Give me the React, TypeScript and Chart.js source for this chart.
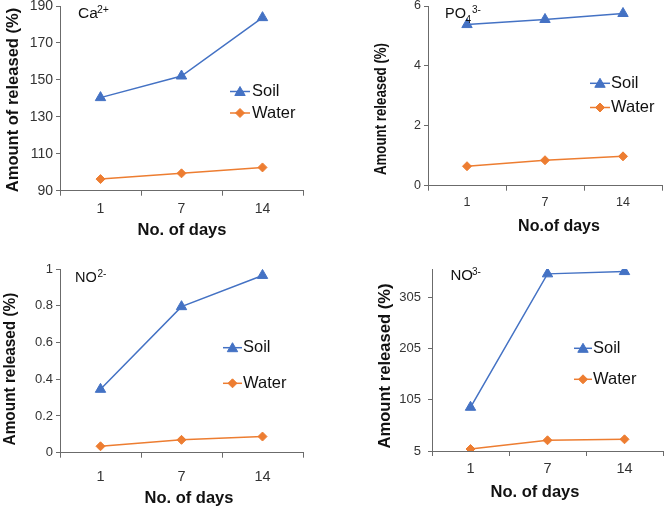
import React, { useEffect, useRef } from 'react';
import { Chart, registerables } from 'chart.js';

Chart.register(...registerables);

// ---------------- data ----------------
const days = ['1', '7', '14'];
const seriesNames = ['Soil', 'Water'];

const caSoil = [140.4, 152.1, 183.7];
const caWater = [96.3, 99.4, 102.6];
const caTicks = [90, 110, 130, 150, 170, 190];

const po4Soil = [5.38, 5.55, 5.75];
const po4Water = [0.65, 0.85, 0.98];
const po4Ticks = [0, 2, 4, 6];

const no2Soil = [0.345, 0.795, 0.965];
const no2Water = [0.035, 0.07, 0.088];
const no2Ticks = [0, 0.2, 0.4, 0.6, 0.8, 1];

const no3Soil = [90.3, 350.5, 355];
const no3Water = [8.9, 25.9, 27.8];
const no3Ticks = [5, 105, 205, 305];

// ---------------- styles ----------------
const FONT = "'Liberation Sans', Arial, Helvetica, sans-serif";
const BLUE = '#4472C4';
const ORANGE = '#ED7D31';
const AXIS = '#6b6b6b';
const TICK_TXT = '#333333';
const TXT = '#111111';
const EXT = 20;
const PAGE_W = 664;
const PAGE_H = 507;
const CW = PAGE_W + 2 * EXT;
const CH = PAGE_H + 2 * EXT;
const Y_W = 60;
const X_H = 60;
const TRI_R = 6;
const DIA_R = 4.5;

type Seg = { t: string; x: number; y: number; s: number };
type PanelCfg = {
  soil: number[];
  water: number[];
  ticks: number[];
  min: number;
  max: number;
  area: { l: number; t: number; r: number; b: number };
  yTickSize: number;
  xTickSize: number;
  yPad: number;
  xPad: number;
  yTitle: { text: string; x: number; y: number; s: number; sq: number };
  xTitle: { text: string; x: number; y: number; s: number };
  ion: Seg[];
  legend: { x0: number; x1: number; tx: number; ys: number[]; s: number };
};

const panels: PanelCfg[] = [
  {
    soil: caSoil, water: caWater, ticks: caTicks, min: 90, max: 190,
    area: { l: 60, t: 6, r: 303, b: 190.7 },
    yTickSize: 14, xTickSize: 14, yPad: 3, xPad: 5,
    yTitle: { text: 'Amount of released (%)', x: 13, y: 100, s: 16.5, sq: 1 },
    xTitle: { text: 'No. of days', x: 182, y: 230.5, s: 16.5 },
    ion: [
      { t: 'Ca', x: 78, y: 18, s: 15.5 },
      { t: '2+', x: 97, y: 12.5, s: 10.5 },
    ],
    legend: { x0: 230, x1: 250, tx: 252, ys: [91.5, 113], s: 16.5 },
  },
  {
    soil: po4Soil, water: po4Water, ticks: po4Ticks, min: 0, max: 6,
    area: { l: 428, t: 6, r: 662, b: 185.7 },
    yTickSize: 12.5, xTickSize: 12.5, yPad: 3, xPad: 4,
    yTitle: { text: 'Amount released (%)', x: 382, y: 109, s: 16, sq: 0.83 },
    xTitle: { text: 'No.of days', x: 559, y: 226.5, s: 16 },
    ion: [
      { t: 'PO', x: 445, y: 18, s: 14.5 },
      { t: '4', x: 465.5, y: 23, s: 10 },
      { t: '3-', x: 472, y: 12.5, s: 10 },
    ],
    legend: { x0: 590, x1: 610, tx: 611, ys: [83.3, 107.5], s: 16.5 },
  },
  {
    soil: no2Soil, water: no2Water, ticks: no2Ticks, min: 0, max: 1,
    area: { l: 60, t: 269, r: 303, b: 452.7 },
    yTickSize: 13, xTickSize: 14.5, yPad: 3, xPad: 11,
    yTitle: { text: 'Amount released (%)', x: 11, y: 369, s: 16, sq: 0.96 },
    xTitle: { text: 'No. of days', x: 189, y: 498, s: 16.5 },
    ion: [
      { t: 'NO', x: 75, y: 282, s: 14.5 },
      { t: '2-', x: 97.5, y: 277, s: 10 },
    ],
    legend: { x0: 223, x1: 242, tx: 243, ys: [347.7, 383.3], s: 16.5 },
  },
  {
    soil: no3Soil, water: no3Water, ticks: no3Ticks, min: 5, max: 360,
    area: { l: 432, t: 269, r: 663, b: 451 },
    yTickSize: 13, xTickSize: 14.5, yPad: 7, xPad: 4,
    yTitle: { text: 'Amount released (%)', x: 385, y: 366, s: 16.6, sq: 1 },
    xTitle: { text: 'No. of days', x: 535, y: 492, s: 16.5 },
    ion: [
      { t: 'NO', x: 450.5, y: 280, s: 15 },
      { t: '3-', x: 472, y: 275, s: 10 },
    ],
    legend: { x0: 574, x1: 592, tx: 593, ys: [348.3, 379.3], s: 16.5 },
  },
];

function drawMarker(ctx: CanvasRenderingContext2D, kind: string, x: number, y: number, r: number, color: string) {
  ctx.save();
  ctx.fillStyle = color;
  ctx.strokeStyle = color;
  ctx.lineWidth = 1;
  ctx.beginPath();
  if (kind === 'triangle') {
    ctx.moveTo(x, y - r);
    ctx.lineTo(x + 0.866 * r, y + 0.5 * r);
    ctx.lineTo(x - 0.866 * r, y + 0.5 * r);
  } else {
    ctx.moveTo(x - r, y);
    ctx.lineTo(x, y - r);
    ctx.lineTo(x + r, y);
    ctx.lineTo(x, y + r);
  }
  ctx.closePath();
  ctx.fill();
  ctx.stroke();
  ctx.restore();
}

function makeTextPlugin(cfg: PanelCfg) {
  return {
    id: 'panelText',
    afterDraw(chart: any) {
      const ctx: CanvasRenderingContext2D = chart.ctx;
      ctx.save();
      ctx.translate(EXT, EXT);
      // y title
      ctx.save();
      ctx.fillStyle = TXT;
      ctx.font = `bold ${cfg.yTitle.s}px ${FONT}`;
      ctx.textAlign = 'center';
      ctx.textBaseline = 'middle';
      ctx.translate(cfg.yTitle.x, cfg.yTitle.y);
      ctx.rotate(-Math.PI / 2);
      ctx.scale(cfg.yTitle.sq, 1);
      ctx.fillText(cfg.yTitle.text, 0, 0);
      ctx.restore();
      // x title
      ctx.fillStyle = TXT;
      ctx.font = `bold ${cfg.xTitle.s}px ${FONT}`;
      ctx.textAlign = 'center';
      ctx.textBaseline = 'middle';
      ctx.fillText(cfg.xTitle.text, cfg.xTitle.x, cfg.xTitle.y);
      // ion label
      ctx.textAlign = 'left';
      ctx.textBaseline = 'alphabetic';
      cfg.ion.forEach((seg) => {
        ctx.font = `${seg.s}px ${FONT}`;
        ctx.fillText(seg.t, seg.x, seg.y);
      });
      // legend
      const lg = cfg.legend;
      const colors = [BLUE, ORANGE];
      const kinds = ['triangle', 'diamond'];
      const radii = [TRI_R, DIA_R];
      seriesNames.forEach((name, i) => {
        const y = lg.ys[i];
        ctx.strokeStyle = colors[i];
        ctx.lineWidth = 1.5;
        ctx.beginPath();
        ctx.moveTo(lg.x0, y);
        ctx.lineTo(lg.x1, y);
        ctx.stroke();
        drawMarker(ctx, kinds[i], (lg.x0 + lg.x1) / 2, i === 0 ? y + 1 : y, radii[i], colors[i]);
        ctx.fillStyle = TXT;
        ctx.font = `${lg.s}px ${FONT}`;
        ctx.textAlign = 'left';
        ctx.textBaseline = 'middle';
        ctx.fillText(name, lg.tx, y);
      });
      ctx.restore();
    },
  };
}

function buildConfig(cfg: PanelCfg): any {
  const a = cfg.area;
  return {
    type: 'line',
    data: {
      labels: days,
      datasets: [
        {
          label: seriesNames[0],
          data: cfg.soil,
          borderColor: BLUE,
          backgroundColor: BLUE,
          borderWidth: 1.5,
          pointStyle: 'triangle',
          pointRadius: TRI_R,
          pointBorderWidth: 1,
          tension: 0,
        },
        {
          label: seriesNames[1],
          data: cfg.water,
          borderColor: ORANGE,
          backgroundColor: ORANGE,
          borderWidth: 1.5,
          pointStyle: 'rectRot',
          pointRadius: DIA_R,
          pointBorderWidth: 1,
          tension: 0,
        },
      ],
    },
    options: {
      animation: false,
      responsive: false,
      devicePixelRatio: 1,
      events: [],
      layout: {
        padding: {
          left: a.l + EXT - Y_W,
          top: a.t + EXT,
          right: CW - (a.r + EXT),
          bottom: CH - (a.b + EXT) - X_H,
        },
      },
      plugins: {
        legend: { display: false },
        tooltip: { enabled: false },
        title: { display: false },
      },
      scales: {
        x: {
          type: 'category',
          offset: true,
          grid: {
            offset: true,
            drawOnChartArea: false,
            drawTicks: true,
            tickLength: 5,
            color: AXIS,
            lineWidth: 1,
          },
          border: { display: true, color: AXIS, width: 1 },
          ticks: {
            font: { family: FONT, size: cfg.xTickSize },
            color: TICK_TXT,
            padding: cfg.xPad,
            maxRotation: 0,
            autoSkip: false,
          },
          afterFit: (s: any) => {
            s.height = X_H;
          },
        },
        y: {
          type: 'linear',
          min: cfg.min,
          max: cfg.max,
          afterBuildTicks: (s: any) => {
            s.ticks = cfg.ticks.map((v) => ({ value: v }));
          },
          grid: {
            drawOnChartArea: false,
            drawTicks: true,
            tickLength: 4,
            color: AXIS,
            lineWidth: 1,
          },
          border: { display: true, color: AXIS, width: 1 },
          ticks: {
            font: { family: FONT, size: cfg.yTickSize },
            color: TICK_TXT,
            padding: cfg.yPad,
            callback: (v: number) => String(v),
          },
          afterFit: (s: any) => {
            s.width = Y_W;
          },
        },
      },
    },
    plugins: [makeTextPlugin(cfg)],
  };
}

function Panel({ cfg }: { cfg: PanelCfg }) {
  const ref = useRef<HTMLCanvasElement>(null);
  useEffect(() => {
    if (!ref.current) return;
    const chart = new Chart(ref.current, buildConfig(cfg));
    return () => chart.destroy();
  }, [cfg]);
  return (
    <canvas
      ref={ref}
      width={CW}
      height={CH}
      style={{ position: 'absolute', left: -EXT, top: -EXT, width: CW, height: CH }}
    />
  );
}

export default function App() {
  return (
    <div
      style={{
        position: 'fixed',
        left: 0,
        top: 0,
        width: PAGE_W,
        height: PAGE_H,
        overflow: 'hidden',
        background: '#ffffff',
      }}
    >
      {panels.map((p, i) => (
        <Panel key={i} cfg={p} />
      ))}
    </div>
  );
}
